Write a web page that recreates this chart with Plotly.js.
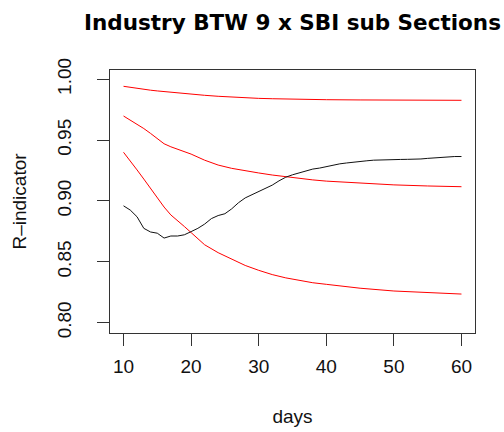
<!DOCTYPE html>
<html>
<head>
<meta charset="utf-8">
<script src="https://cdn.plot.ly/plotly-3.0.1.min.js"></script>
<style>
  html, body { margin: 0; padding: 0; background: #ffffff; }
  #chart { width: 504px; height: 432px; }
</style>
</head>
<body>
<div id="chart"></div>
<script>
// Response-representativeness (R-indicator) by fieldwork day
const days = [10,11,12,13,14,15,16,17,18,19,20,21,22,23,24,25,26,27,28,29,30,
              31,32,33,34,35,36,37,38,39,40,41,42,43,44,45,46,47,48,49,50,
              51,52,53,54,55,56,57,58,59,60];
const rIndicator = [0.8960,0.8925,0.8870,0.8775,0.8745,0.8735,0.8695,0.8712,0.8712,0.8722,0.8748,
                    0.8775,0.8810,0.8855,0.8880,0.8895,0.8935,0.8985,0.9025,0.9050,0.9075,
                    0.9100,0.9130,0.9165,0.9195,0.9215,0.9230,0.9250,0.9262,0.9270,0.9282,
                    0.9295,0.9305,0.9312,0.9320,0.9325,0.9330,0.9335,0.9338,0.9340,0.9340,
                    0.9341,0.9342,0.9342,0.9345,0.9350,0.9355,0.9360,0.9363,0.9365,0.9365];

// Reference curves
const refDays = [10,11,12,13,14,15,16,17,18,19,20,22,24,26,28,30,32,34,36,38,40,45,50,55,60];
const refUpper = [0.9942,0.9933,0.9925,0.9917,0.9910,0.9904,0.9898,0.9892,0.9887,0.9882,0.9877,
                  0.9868,0.9860,0.9853,0.9848,0.9843,0.9840,0.9837,0.9835,0.9833,0.9832,
                  0.9830,0.9828,0.9828,0.9827];
const refMiddle = [0.9698,0.9665,0.9630,0.9595,0.9555,0.9510,0.9470,0.9445,0.9425,0.9405,0.9385,
                   0.9335,0.9295,0.9268,0.9247,0.9230,0.9213,0.9198,0.9185,0.9173,0.9163,
                   0.9145,0.9132,0.9123,0.9117];
const refLower = [0.9400,0.9330,0.9255,0.9180,0.9100,0.9025,0.8950,0.8885,0.8840,0.8790,0.8740,
                  0.8640,0.8575,0.8520,0.8470,0.8430,0.8395,0.8368,0.8345,0.8328,0.8315,
                  0.8283,0.8260,0.8246,0.8235];

const xTicks = [10,20,30,40,50,60];
const yTicks = [0.80,0.85,0.90,0.95,1.00];
const yTickText = ['0.80','0.85','0.90','0.95','1.00'];

const red = '#ff0000';
const traces = [
  {x: refDays, y: refUpper,  mode: 'lines', line: {color: red, width: 1}},
  {x: refDays, y: refMiddle, mode: 'lines', line: {color: red, width: 1}},
  {x: refDays, y: refLower,  mode: 'lines', line: {color: red, width: 1}},
  {x: days,    y: rIndicator, mode: 'lines', line: {color: '#111111', width: 1}}
];

const axisFont = {family: 'Liberation Sans, Arial, sans-serif', size: 19, color: '#111111'};

const layout = {
  width: 504,
  height: 432,
  margin: {l: 110, r: 29, t: 70, b: 99, pad: 0},
  paper_bgcolor: '#ffffff',
  plot_bgcolor: '#ffffff',
  showlegend: false,
  title: {
    text: 'Industry BTW 9 x SBI sub Sections',
    font: {family: 'DejaVu Sans, sans-serif', size: 21.5, weight: 'bold', color: '#000000'},
    x: 0.5, xref: 'paper', xanchor: 'center',
    y: 1 - 22 / 432, yref: 'container', yanchor: 'middle'
  },
  xaxis: {
    range: [8, 62],
    tickvals: xTicks,
    ticktext: xTicks.map(String),
    ticks: 'outside', ticklen: 12, tickwidth: 1, tickcolor: '#333333',
    ticklabelstandoff: 4,
    showline: true, mirror: true, linecolor: '#333333', linewidth: 1,
    showgrid: false, zeroline: false,
    tickfont: axisFont,
    title: {text: 'days', font: axisFont, standoff: 33}
  },
  yaxis: {
    range: [0.7915, 1.0076],
    tickvals: yTicks,
    ticktext: yTickText,
    tickangle: -90,
    ticks: 'outside', ticklen: 12, tickwidth: 1, tickcolor: '#333333',
    ticklabelstandoff: 18,
    showline: true, mirror: true, linecolor: '#333333', linewidth: 1,
    showgrid: false, zeroline: false,
    tickfont: axisFont,
    title: {text: 'R–indicator', font: axisFont, standoff: 22}
  }
};

Plotly.newPlot('chart', traces, layout, {staticPlot: true, displayModeBar: false});
</script>
</body>
</html>
